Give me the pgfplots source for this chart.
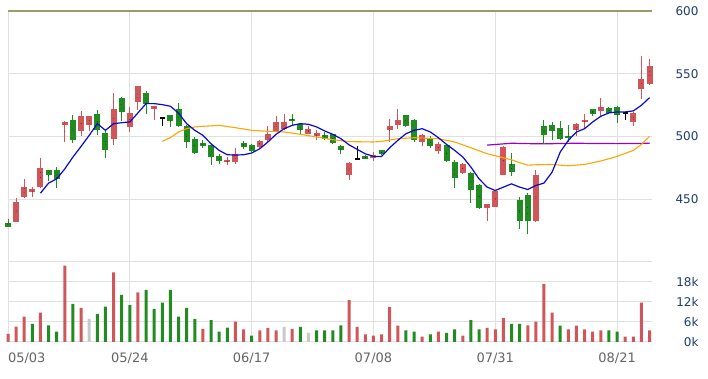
\documentclass[border=0pt]{standalone}
\usepackage{pgfplots}
\pgfplotsset{compat=1.18}
\usepackage{pgfplotstable}
\usepackage{fontspec}
\setmainfont{DejaVu Sans}
\definecolor{upred}{RGB}{208,86,90}
\definecolor{dngreen}{RGB}{34,139,34}
\definecolor{volgray}{RGB}{200,200,200}
\definecolor{mablue}{RGB}{10,10,205}
\definecolor{maorange}{RGB}{255,165,0}
\definecolor{mapurple}{RGB}{153,0,204}
\definecolor{gridgray}{RGB}{224,224,224}
\definecolor{topolive}{RGB}{155,155,105}
\definecolor{lblblue}{RGB}{30,60,110}
\definecolor{dategray}{RGB}{100,100,100}

\pgfplotstableread{
x o h l c
1 432.0 450.9 431.5 447.5
2 451.5 466.1 450.9 459.5
3 455.5 459.5 452.0 457.6
4 459.5 482.9 459.0 474.9
7 509.3 512.0 495.5 511.7
9 504.3 520.3 500.0 516.0
10 509.3 516.5 504.3 516.0
13 498.1 534.9 493.3 522.1
15 507.5 523.5 503.5 519.0
16 527.5 540.5 521.3 540.0
18 522.1 524.3 512.8 524.0
27 479.5 483.5 476.8 480.8
28 479.2 490.9 478.1 486.1
31 491.5 497.3 490.9 496.0
32 496.8 508.0 495.5 501.6
33 504.3 516.0 503.5 511.5
34 506.1 518.1 505.3 511.5
37 502.1 508.0 501.6 506.1
38 500.0 504.8 496.8 502.9
42 469.3 479.5 465.3 478.7
45 482.9 487.5 480.3 484.8
47 504.8 514.1 495.5 508.0
48 508.8 522.1 506.1 512.8
51 495.5 501.6 492.3 500.8
53 488.3 495.5 486.1 493.6
56 470.9 478.7 470.1 477.6
59 442.9 446.1 432.8 446.1
60 444.0 456.8 443.5 456.0
61 469.3 492.3 468.8 491.5
65 432.3 472.8 431.5 468.8
70 504.8 510.7 500.0 509.6
71 511.5 517.6 506.1 512.8
73 520.3 530.9 516.0 523.5
77 511.5 519.5 508.0 518.7
78 538.1 564.0 530.1 546.1
79 541.6 562.1 540.8 556.0
}\uptable

\pgfplotstableread{
x o h l c
0 430.7 434.1 427.5 428.0
5 472.8 473.3 464.3 469.3
6 472.8 475.5 458.9 465.6
8 512.8 517.3 494.7 496.8
11 518.1 520.8 500.8 505.3
12 502.7 504.8 482.9 488.8
14 530.9 531.5 512.3 519.5
17 534.9 536.3 518.1 526.1
20 516.8 517.3 507.5 512.3
21 522.1 526.9 507.5 508.0
22 508.0 508.8 490.9 495.5
23 497.9 499.5 486.1 486.9
24 494.9 496.8 490.9 492.0
25 492.8 493.6 476.8 483.5
26 484.0 485.6 477.6 480.3
29 494.7 496.3 490.1 491.5
30 492.8 494.1 487.5 488.3
35 514.1 518.1 508.8 512.3
36 510.1 510.7 500.8 504.8
39 500.8 503.5 496.8 497.6
40 501.6 502.0 494.1 494.7
41 492.0 492.8 486.1 489.3
44 484.0 484.8 481.6 482.1
46 488.8 489.3 484.8 485.6
49 516.8 517.3 507.5 508.0
50 512.8 514.1 495.5 497.3
52 498.7 500.0 490.9 492.0
54 492.8 493.6 479.5 480.3
55 479.5 480.8 458.9 466.9
57 470.7 471.5 446.7 457.3
58 460.8 461.6 442.1 442.9
62 477.6 486.7 468.5 471.5
63 449.6 452.0 426.1 432.3
64 453.6 454.7 422.1 432.8
66 508.0 512.8 494.1 500.8
67 508.8 511.5 497.3 504.3
68 506.7 512.3 496.8 498.1
69 500.5 508.8 495.5 498.9
72 521.6 522.1 516.0 518.1
74 522.7 523.5 517.6 518.7
75 523.5 524.0 510.7 516.8
}\dntable

\pgfplotstableread{
x o h l c
19 514.9 515.5 508.5 514.9
43 482.0 492.0 481.5 482.0
76 518.7 519.5 512.8 518.7
}\dojitable

\pgfplotsset{candle/.style={only marks, mark=*, mark size=0.01pt,
  mark options={draw=none, fill=none},
  error bars/.cd, y dir=both, y explicit, error mark=none}}

\begin{document}
\begin{tikzpicture}[x=1pt,y=1pt]
\path[use as bounding box] (0,0) rectangle (708,379);

% ---------------- price panel ----------------
\begin{axis}[
  at={(8pt,117.3pt)}, anchor=south west,
  scale only axis, width=644pt, height=250.7pt,
  xmin=0, xmax=79.3, ymin=400, ymax=600,
  clip=false,
  axis line style={draw=none},
  tick style={draw=none},
  xtick={0,15,30,45,60,75}, xticklabels={},
  ytick={450,500,550}, yticklabels={450,500,550},
  extra y ticks={600}, extra y tick labels={600},
  extra y tick style={grid style={topolive, line width=1.6pt}},
  xmajorgrids, ymajorgrids,
  grid style={gridgray, line width=1pt},
  yticklabel pos=right,
  yticklabel style={anchor=east, xshift=50pt, font=\fontsize{12}{14}\selectfont, text=lblblue},
]
% up candles
\addplot[candle, error bar style={line width=1pt, upred}]
  table[x=x, y expr=(\thisrow{h}+\thisrow{l})/2, y error expr=(\thisrow{h}-\thisrow{l})/2] {\uptable};
\addplot[candle, error bar style={line width=6pt, upred}]
  table[x=x, y expr=(\thisrow{o}+\thisrow{c})/2, y error expr={max(abs(\thisrow{c}-\thisrow{o})/2,0.4)}] {\uptable};
% down candles
\addplot[candle, error bar style={line width=1pt, dngreen}]
  table[x=x, y expr=(\thisrow{h}+\thisrow{l})/2, y error expr=(\thisrow{h}-\thisrow{l})/2] {\dntable};
\addplot[candle, error bar style={line width=6pt, dngreen}]
  table[x=x, y expr=(\thisrow{o}+\thisrow{c})/2, y error expr={max(abs(\thisrow{c}-\thisrow{o})/2,0.4)}] {\dntable};
% doji candles
\addplot[candle, error bar style={line width=1pt, black}]
  table[x=x, y expr=(\thisrow{h}+\thisrow{l})/2, y error expr=(\thisrow{h}-\thisrow{l})/2] {\dojitable};
\addplot[candle, error bar style={line width=5pt, black}]
  table[x=x, y expr=\thisrow{o}, y error expr=0.5] {\dojitable};

% moving averages
\addplot[mapurple, line width=1.2pt] coordinates {
(59,493.0) (60,493.5) (62,494.5) (64,494.2) (66,494.0) (68,494.3) (70,494.5) (72,494.3) (75,494.2) (77,494.3) (79,494.5)};
\addplot[maorange, line width=1.1pt] coordinates {
(19,496.0) (20,499.0) (21,503.5) (22,506.1) (23,507.5) (24,508.0) (26,508.8) (28,506.9) (30,504.8) (32,504.0) (34,503.5) (36,501.6) (38,499.5) (40,497.3) (42,495.8) (45,495.5) (46,496.0) (48,498.1) (50,498.9) (53,498.1) (55,495.5) (57,490.9) (59,486.1) (61,482.9) (62,481.3) (63,479.0) (64,477.0) (65,477.3) (67,477.6) (69,476.5) (71,477.6) (73,480.3) (75,484.0) (77,488.8) (78,493.6) (79,500.0)};
\addplot[mablue, line width=1.2pt] coordinates {
(4,454.7) (5,462.7) (6,466.1) (7,474.1) (8,483.5) (9,492.0) (10,500.8) (11,510.1) (12,504.8) (13,510.1) (14,510.9) (15,511.5) (16,518.7) (17,526.1) (18,526.1) (19,525.3) (20,524.0) (21,518.5) (22,510.1) (23,504.8) (24,500.8) (25,494.1) (26,488.8) (27,485.3) (28,485.1) (29,485.3) (30,486.7) (31,490.1) (32,495.5) (33,501.6) (34,506.1) (35,508.8) (36,510.1) (37,509.6) (38,507.5) (39,504.3) (40,501.6) (41,498.1) (42,493.2) (43,489.6) (44,486.1) (45,484.0) (46,484.0) (47,490.9) (48,496.8) (49,502.1) (50,504.8) (51,506.1) (52,503.5) (53,498.9) (54,493.6) (55,488.8) (56,483.5) (57,475.5) (58,466.1) (59,459.5) (60,456.8) (61,459.5) (62,462.1) (63,459.5) (64,457.6) (65,460.8) (66,462.7) (67,471.5) (68,487.5) (69,496.8) (70,503.5) (71,506.1) (72,511.5) (73,516.0) (74,518.7) (75,519.5) (76,519.5) (77,520.3) (78,524.8) (79,530.9)};
\end{axis}

% ---------------- volume panel ----------------
\begin{axis}[
  at={(8pt,37pt)}, anchor=south west,
  scale only axis, width=644pt, height=80.3pt,
  xmin=0, xmax=79.3, ymin=0, ymax=24000,
  clip=false,
  axis line style={draw=none},
  tick style={draw=none},
  xtick={0,15,30,45,60,75},
  xticklabels={\rlap{05/03},05/24,06/17,07/08,07/31,08/21},
  xticklabel style={font=\fontsize{13}{15}\selectfont, text=dategray, yshift=-3pt},
  ytick={0,6000,12000,18000,24000}, yticklabels={0k,6k,12k,18k,{}},
  scaled y ticks=false,
  xmajorgrids, ymajorgrids,
  grid style={gridgray, line width=1pt},
  yticklabel pos=right,
  yticklabel style={anchor=east, xshift=50pt, font=\fontsize{12}{14}\selectfont, text=lblblue},
  ybar, bar width=3pt,
]
\addplot[fill=upred, draw=none, bar shift=0pt] coordinates {
(0,2400) (1,4600) (2,7600) (4,8800) (7,22800) (9,10200) (13,20800) (16,14800) (24,3900) (28,6100)
(29,3800) (31,3500) (32,4200) (33,3500) (35,3900) (42,12500) (43,4500) (44,2300) (45,1900) (46,2300)
(47,10500) (48,4900) (51,1600) (53,3100) (56,1900) (59,4200) (60,3800) (61,7200) (64,5000) (65,6100)
(66,17400) (67,8800) (69,3800) (70,4900) (71,3800) (72,3100) (73,3500) (76,1600) (77,1600) (78,11800) (79,3500)};
\addplot[fill=dngreen, draw=none, bar shift=0pt] coordinates {
(3,5400) (5,5000) (6,3100) (8,11400) (11,8400) (12,10600) (14,14100) (15,11000) (17,15600) (18,9900)
(19,11800) (20,15600) (21,7600) (22,10200) (23,6900) (25,6500) (26,3100) (27,4300) (30,1900) (36,4500)
(38,3500) (39,3500) (40,3500) (41,5000) (49,3500) (50,3100) (52,2300) (54,2700) (55,3800) (57,6500)
(58,3800) (62,5400) (63,5400) (68,4900) (74,3500) (75,3100)};
\addplot[fill=volgray, draw=none, bar shift=0pt] coordinates {
(10,6900) (34,4500) (37,2700)};
\end{axis}
\end{tikzpicture}
\end{document}
